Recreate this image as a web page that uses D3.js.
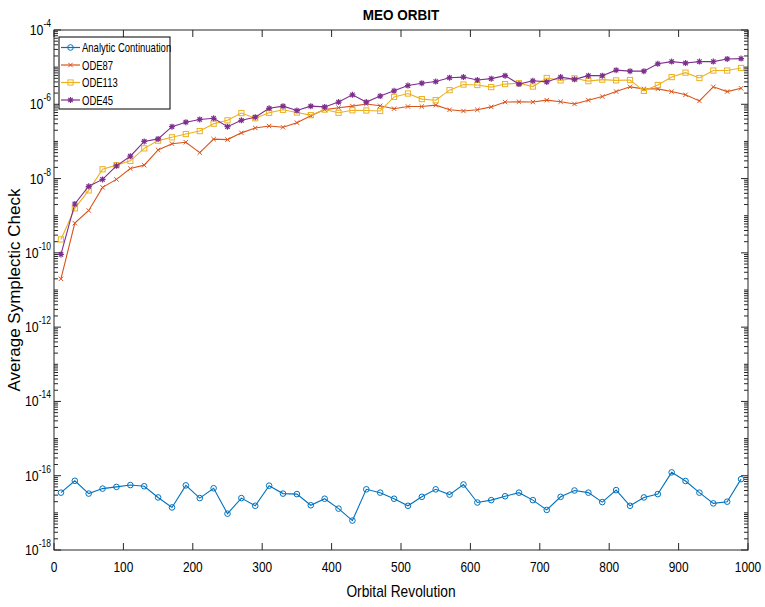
<!DOCTYPE html>
<html><head><meta charset="utf-8">
<script src="https://cdn.jsdelivr.net/npm/d3@7"></script>
<style>
body{margin:0;background:#fff;}
text{font-family:"Liberation Sans",Arial,sans-serif;}
</style></head>
<body><svg id="c" width="765" height="607"></svg>
<script>
const xVals=[10,30,50,70,90,110,130,150,170,190,210,230,250,270,290,310,330,350,370,390,410,430,450,470,490,510,530,550,570,590,610,630,650,670,690,710,730,750,770,790,810,830,850,870,890,910,930,950,970,990];
const analytic=[3.5e-17,7.3e-17,3.3e-17,4.5e-17,5.0e-17,5.6e-17,5.2e-17,2.6e-17,1.4e-17,5.5e-17,2.5e-17,4.6e-17,9.5e-18,2.5e-17,1.55e-17,5.4e-17,3.3e-17,3.2e-17,1.6e-17,2.4e-17,1.3e-17,6.2e-18,4.3e-17,3.5e-17,2.4e-17,1.55e-17,2.7e-17,4.3e-17,3.1e-17,5.8e-17,1.9e-17,2.2e-17,2.8e-17,3.5e-17,2.2e-17,1.2e-17,2.7e-17,4.0e-17,3.5e-17,1.95e-17,4.1e-17,1.55e-17,2.6e-17,3.2e-17,1.23e-16,7.2e-17,3.5e-17,1.8e-17,2.0e-17,8.1e-17];
const ode87=[2.0e-11,6.3e-10,1.38e-9,5.8e-9,9.5e-9,1.86e-8,2.3e-8,5.9e-8,8.7e-8,9.5e-8,5.0e-8,1.15e-7,1.12e-7,1.7e-7,2.3e-7,2.6e-7,2.4e-7,3.2e-7,4.9e-7,7.2e-7,8.1e-7,8.9e-7,1.02e-6,9.1e-7,7.6e-7,8.7e-7,8.7e-7,9.5e-7,7.1e-7,6.6e-7,7.1e-7,8.5e-7,1.15e-6,1.17e-6,1.15e-6,1.29e-6,1.17e-6,1.02e-6,1.29e-6,1.62e-6,2.2e-6,2.95e-6,2.6e-6,2.6e-6,2.2e-6,1.8e-6,1.23e-6,2.95e-6,2.2e-6,2.7e-6];
const ode113=[2.3e-10,1.58e-9,4.8e-9,1.78e-8,2.3e-8,3.0e-8,6.5e-8,1.05e-7,1.29e-7,1.58e-7,1.9e-7,3.0e-7,3.7e-7,5.8e-7,4.2e-7,5.9e-7,7.1e-7,6.0e-7,5.1e-7,7.2e-7,5.9e-7,6.9e-7,6.8e-7,6.6e-7,1.58e-6,1.95e-6,1.38e-6,1.29e-6,2.4e-6,3.4e-6,3.3e-6,2.9e-6,3.5e-6,3.7e-6,3.0e-6,5.1e-6,4.4e-6,5.0e-6,4.2e-6,4.6e-6,4.4e-6,4.5e-6,2.3e-6,3.3e-6,5.4e-6,7.1e-6,5.1e-6,8.1e-6,8.1e-6,9.5e-6];
const ode45=[9.1e-11,2.07e-9,6.2e-9,9.5e-9,2.2e-8,4.0e-8,1.0e-7,1.17e-7,2.5e-7,3.3e-7,3.9e-7,4.2e-7,2.5e-7,3.7e-7,4.5e-7,7.8e-7,8.9e-7,6.8e-7,8.9e-7,8.5e-7,1.15e-6,1.8e-6,1.15e-6,1.66e-6,2.3e-6,3.2e-6,3.7e-6,4.1e-6,5.2e-6,5.4e-6,4.5e-6,4.9e-6,5.9e-6,3.5e-6,4.3e-6,4.0e-6,5.4e-6,4.7e-6,5.9e-6,5.9e-6,8.3e-6,7.8e-6,7.8e-6,1.23e-5,1.41e-5,1.29e-5,1.41e-5,1.41e-5,1.66e-5,1.7e-5];
const seriesNames=["Analytic Continuation","ODE87","ODE113","ODE45"];
const seriesColors=["#0072BD","#D95319","#EDB120","#7E2F8E"];
const seriesMarkers=["circle","x","square","star"];
const xTicks=[0,100,200,300,400,500,600,700,800,900,1000];
const yLabelExps=[-4,-6,-8,-10,-12,-14,-16,-18];
const titleText="MEO ORBIT", xLabel="Orbital Revolution", yLabel="Average Symplectic Check";

const svg=d3.select("#c");
const L=54,R=748,T=30,B=550;
const x=d3.scaleLinear().domain([0,1000]).range([L,R]);
const y=d3.scaleLog().domain([1e-18,1e-4]).range([B,T]);
const axisCol="#262626";

function ntext(g,px,py,sx,size,anchor,str,extra){
  const t=g.append("text").attr("transform",`translate(${px},${py}) scale(${sx},1)`)
    .attr("text-anchor",anchor).attr("font-size",size).attr("fill","#000");
  if(str!==null) t.text(str);
  if(extra) extra(t);
  return t;
}

svg.append("rect").attr("x",L).attr("y",T).attr("width",R-L).attr("height",B-T)
  .attr("fill","#fff").attr("stroke",axisCol).attr("stroke-width",1);

const gx=svg.append("g");
xTicks.forEach(t=>{
  const px=x(t);
  gx.append("line").attr("x1",px).attr("x2",px).attr("y1",B).attr("y2",B-7).attr("stroke",axisCol);
  gx.append("line").attr("x1",px).attr("x2",px).attr("y1",T).attr("y2",T+7).attr("stroke",axisCol);
  ntext(gx,px,B+22,0.85,14,"middle",String(t));
});
const gy=svg.append("g");
for(let e=-18;e<=-4;e++){
  const isMajor = yLabelExps.includes(e);
  const py=y(Math.pow(10,e));
  const len=isMajor?7:4;
  gy.append("line").attr("x1",L).attr("x2",L+len).attr("y1",py).attr("y2",py).attr("stroke",axisCol);
  gy.append("line").attr("x1",R).attr("x2",R-len).attr("y1",py).attr("y2",py).attr("stroke",axisCol);
  if(e<-4){
    for(let m=2;m<=9;m++){
      const pm=y(m*Math.pow(10,e));
      gy.append("line").attr("x1",L).attr("x2",L+4).attr("y1",pm).attr("y2",pm).attr("stroke",axisCol);
      gy.append("line").attr("x1",R).attr("x2",R-4).attr("y1",pm).attr("y2",pm).attr("stroke",axisCol);
    }
  }
}
yLabelExps.forEach(e=>{
  const py=y(Math.pow(10,e));
  ntext(gy,L-3,py+5,0.85,14.5,"end",null,t=>{
    t.append("tspan").text("10");
    t.append("tspan").attr("dy",-8).attr("font-size",10).text(e);
  });
});

const allSeries=[analytic,ode87,ode113,ode45];
const line=d3.line().x(d=>x(d[0])).y(d=>y(d[1]));
function drawMarker(g,type,cx,cy,col){
  if(type==="circle"){
    g.append("circle").attr("cx",cx).attr("cy",cy).attr("r",2.8).attr("fill","none").attr("stroke",col).attr("stroke-width",1);
  }else if(type==="square"){
    g.append("rect").attr("x",cx-2.6).attr("y",cy-2.6).attr("width",5.2).attr("height",5.2).attr("fill","none").attr("stroke",col).attr("stroke-width",1);
  }else if(type==="x"){
    const s=2.2;
    g.append("path").attr("d",`M${cx-s},${cy-s}L${cx+s},${cy+s}M${cx-s},${cy+s}L${cx+s},${cy-s}`).attr("stroke",col).attr("stroke-width",1);
  }else{
    const s=3;
    g.append("path").attr("d",`M${cx-s},${cy}L${cx+s},${cy}M${cx},${cy-s}L${cx},${cy+s}M${cx-2.2},${cy-2.2}L${cx+2.2},${cy+2.2}M${cx-2.2},${cy+2.2}L${cx+2.2},${cy-2.2}`).attr("stroke",col).attr("stroke-width",1.2);
  }
}
allSeries.forEach((vals,i)=>{
  const data=xVals.map((xv,j)=>[xv,vals[j]]);
  const g=svg.append("g");
  g.append("path").datum(data).attr("d",line).attr("fill","none").attr("stroke",seriesColors[i]).attr("stroke-width",1.1);
  data.forEach(d=>drawMarker(g,seriesMarkers[i],x(d[0]),y(d[1]),seriesColors[i]));
});

const lg=svg.append("g");
lg.append("rect").attr("x",59).attr("y",37).attr("width",111).attr("height",72).attr("fill","#fff").attr("stroke","#000").attr("stroke-width",1);
seriesNames.forEach((n,i)=>{
  const ly=47.5+i*17.5;
  lg.append("line").attr("x1",61).attr("x2",80).attr("y1",ly).attr("y2",ly).attr("stroke",seriesColors[i]).attr("stroke-width",1.2);
  drawMarker(lg,seriesMarkers[i],70.5,ly,seriesColors[i]);
  ntext(lg,82,ly+4.5,0.76,12.5,"start",n);
});

ntext(svg,(L+R)/2,20,0.9,15,"middle",titleText).attr("font-weight","bold");
ntext(svg,(L+R)/2,597,0.86,16,"middle",xLabel);
svg.append("text").attr("transform",`translate(20,${(T+B)/2}) rotate(-90)`).attr("text-anchor","middle").attr("font-size",17).attr("fill","#000").text(yLabel);
</script></body></html>
